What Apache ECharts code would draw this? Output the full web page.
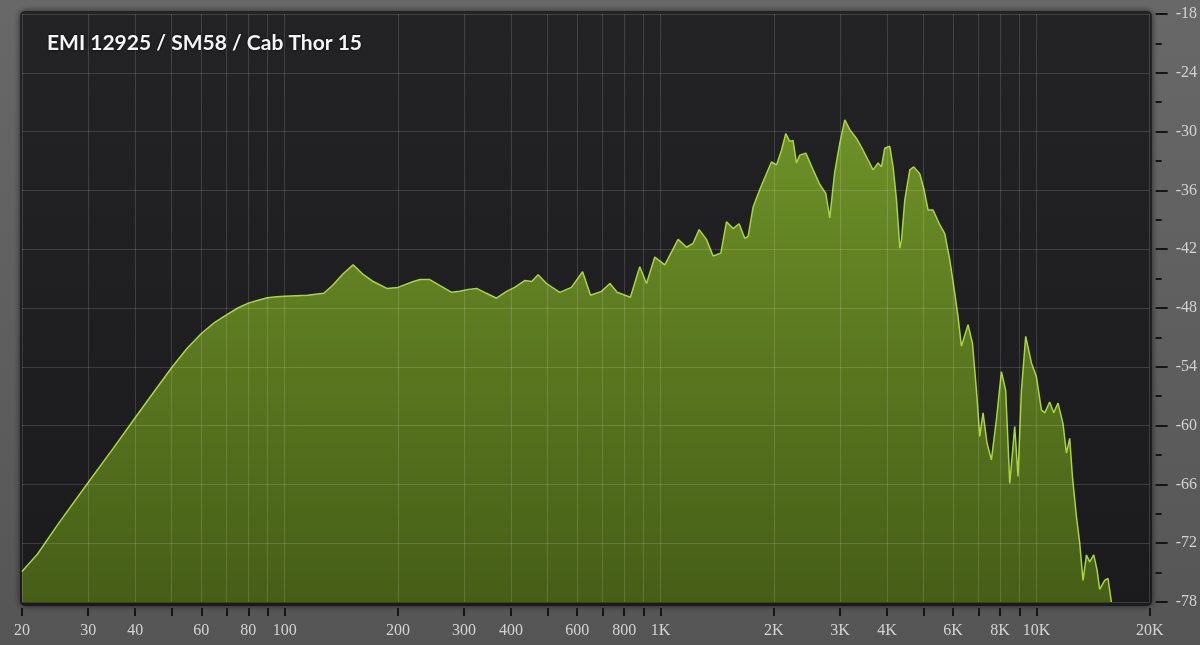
<!DOCTYPE html>
<html>
<head>
<meta charset="utf-8">
<title>EMI 12925 / SM58 / Cab Thor 15</title>
<script src="https://cdn.jsdelivr.net/npm/echarts@6/dist/echarts.min.js"></script>
<style>
  html, body { margin: 0; padding: 0; background: #5c5c5c; }
  #chart { width: 1200px; height: 645px; }
</style>
</head>
<body>
<div id="chart"></div>
<script>
const titleText = 'EMI 12925 / SM58 / Cab Thor 15'

// frequency (Hz) of each traced point of the response
const freqHz = [
  20, 22, 25, 30, 35, 40, 45, 50, 55, 60, 65, 70, 75, 80, 85, 90, 95,
  100, 115, 127, 134, 143, 152, 162, 172, 187, 200,
  220, 229, 243, 261, 278, 292, 308, 324, 344, 366, 389, 409, 435, 454, 472, 497,
  539, 579, 620, 651, 696, 733, 766, 831, 880, 917, 965, 1026, 1113, 1172, 1220, 1266,
  1324, 1379, 1446, 1497, 1559, 1617, 1675, 1709, 1762, 1836, 1912, 1972, 2034, 2097, 2152, 2206,
  2250, 2298, 2345, 2434, 2545, 2651, 2750, 2818, 2906, 2996, 3090, 3186, 3320, 3456, 3564, 3675,
  3789, 3868, 3946, 4070, 4154, 4242, 4329, 4373, 4462, 4601, 4714, 4891, 5012, 5146, 5306, 5528,
  5700, 5878, 6061, 6184, 6313, 6574, 6754, 6921, 7064, 7207, 7386, 7586, 7821, 8065, 8279, 8488,
  8750, 8928, 9117, 9360, 9693, 9992, 10304, 10514, 10839, 11110, 11406, 11761, 12010, 12254, 12460, 12770,
  13030, 13297, 13578, 13852, 14198, 14486, 14723, 15182, 15491, 15820
]

// level (dB) at each frequency above
const levelDb = [
  -74.9, -73.1, -70.0, -65.8, -62.3, -59.2, -56.5, -54.1, -52.1, -50.6, -49.5, -48.7, -48.0, -47.5, -47.2, -46.95, -46.85,
  -46.8, -46.7, -46.5, -45.7, -44.5, -43.6, -44.6, -45.3, -46.0, -45.9,
  -45.3, -45.1, -45.1, -45.8, -46.4, -46.3, -46.1, -46.0, -46.5, -47.0, -46.3, -45.9, -45.2, -45.3, -44.6, -45.5,
  -46.4, -45.9, -44.3, -46.7, -46.3, -45.5, -46.4, -46.9, -43.8, -45.5, -42.8, -43.6, -41.0, -41.8, -41.4, -40.0,
  -41.0, -42.7, -42.4, -39.2, -39.9, -39.4, -40.9, -40.7, -37.7, -35.9, -34.3, -33.1, -33.4, -31.9, -30.2, -31.0,
  -30.9, -33.2, -32.4, -32.2, -33.9, -35.4, -36.3, -38.8, -34.1, -31.2, -28.8, -29.8, -30.7, -31.9, -32.9, -33.9,
  -33.2, -33.6, -31.7, -31.5, -33.6, -37.0, -41.9, -41.1, -37.0, -33.9, -33.6, -34.3, -35.8, -38.0, -38.0, -39.5,
  -40.4, -43.1, -46.5, -48.9, -51.9, -49.7, -51.6, -56.4, -61.1, -58.7, -61.8, -63.5, -59.4, -54.5, -56.4, -65.9,
  -60.1, -65.2, -56.4, -50.9, -53.6, -55.0, -58.4, -58.7, -57.6, -58.7, -57.7, -59.8, -62.8, -61.3, -65.2, -69.3,
  -72.0, -75.8, -73.2, -73.9, -73.2, -74.7, -76.7, -75.8, -75.6, -78
]

// x axis grid/tick positions and the ones that carry a label
const freqTicks = [
  20, 30, 40, 50, 60, 70, 80, 90, 100, 200, 300, 400, 500, 600, 700, 800, 900,
  1000, 2000, 3000, 4000, 5000, 6000, 7000, 8000, 9000, 10000, 20000
]
const freqLabels = [
  20, 30, 40, 60, 80, 100, 200, 300, 400, 600, 800, 1000, 2000, 3000, 4000, 6000, 8000, 10000, 20000
]

const dbMin = -78
const dbMax = -18
const dbStep = 6

const labelFont = {
  color: '#d2d2d2',
  fontFamily: 'Liberation Sans Narrow',
  fontSize: 16
}
const tickStyle = { color: '#151515', width: 2 }
const gridStyle = { color: 'rgba(255,255,255,0.14)', width: 1 }

const chart = echarts.init(document.getElementById('chart'))
chart.setOption({
  animation: false,
  backgroundColor: new echarts.graphic.LinearGradient(0, 0, 0, 1, [
    { offset: 0, color: '#686868' },
    { offset: 1, color: '#555555' }
  ]),
  title: {
    text: titleText,
    left: 47,
    top: 33,
    padding: 0,
    textStyle: {
      color: '#f4f4f4',
      fontFamily: 'Lato',
      fontWeight: 'bold',
      fontSize: 21,
      textShadowColor: 'rgba(0,0,0,0.8)',
      textShadowBlur: 3
    }
  },
  graphic: [{
    type: 'rect',
    z: -1,
    shape: { x: 20, y: 11, width: 1132, height: 595, r: 5 },
    style: {
      fill: new echarts.graphic.LinearGradient(0, 0, 0, 1, [
        { offset: 0, color: '#232326' },
        { offset: 1, color: '#1b1b1d' }
      ]),
      shadowBlur: 6,
      shadowColor: 'rgba(0,0,0,0.6)'
    }
  }],
  grid: { left: 22, right: 50, top: 14, bottom: 43 },
  xAxis: {
    type: 'log',
    logBase: 10,
    min: 20,
    max: 20000,
    offset: 6,
    z: 5,
    axisLine: { show: false },
    axisTick: { customValues: freqTicks, length: 8, lineStyle: tickStyle },
    axisLabel: {
      customValues: freqLabels,
      margin: 15,
      ...labelFont,
      formatter: v => (v >= 1000 ? v / 1000 + 'K' : String(v))
    },
    splitLine: { show: true, lineStyle: gridStyle }
  },
  yAxis: {
    type: 'value',
    position: 'right',
    min: dbMin,
    max: dbMax,
    interval: dbStep,
    offset: 6,
    z: 5,
    axisLine: { show: false },
    axisTick: { show: true, length: 12, lineStyle: tickStyle },
    minorTick: { show: true, splitNumber: 2, length: 6, lineStyle: tickStyle },
    axisLabel: { margin: 20, ...labelFont },
    splitLine: { show: true, lineStyle: gridStyle }
  },
  series: [{
    type: 'line',
    z: 2,
    symbol: 'none',
    data: freqHz.map((f, i) => [f, levelDb[i]]),
    lineStyle: { color: '#a9d63c', width: 1.5 },
    areaStyle: {
      origin: 'start',
      opacity: 1,
      color: new echarts.graphic.LinearGradient(0, 0, 0, 1, [
        { offset: 0, color: '#6e9128' },
        { offset: 1, color: '#465e17' }
      ])
    }
  }]
})
</script>
</body>
</html>
